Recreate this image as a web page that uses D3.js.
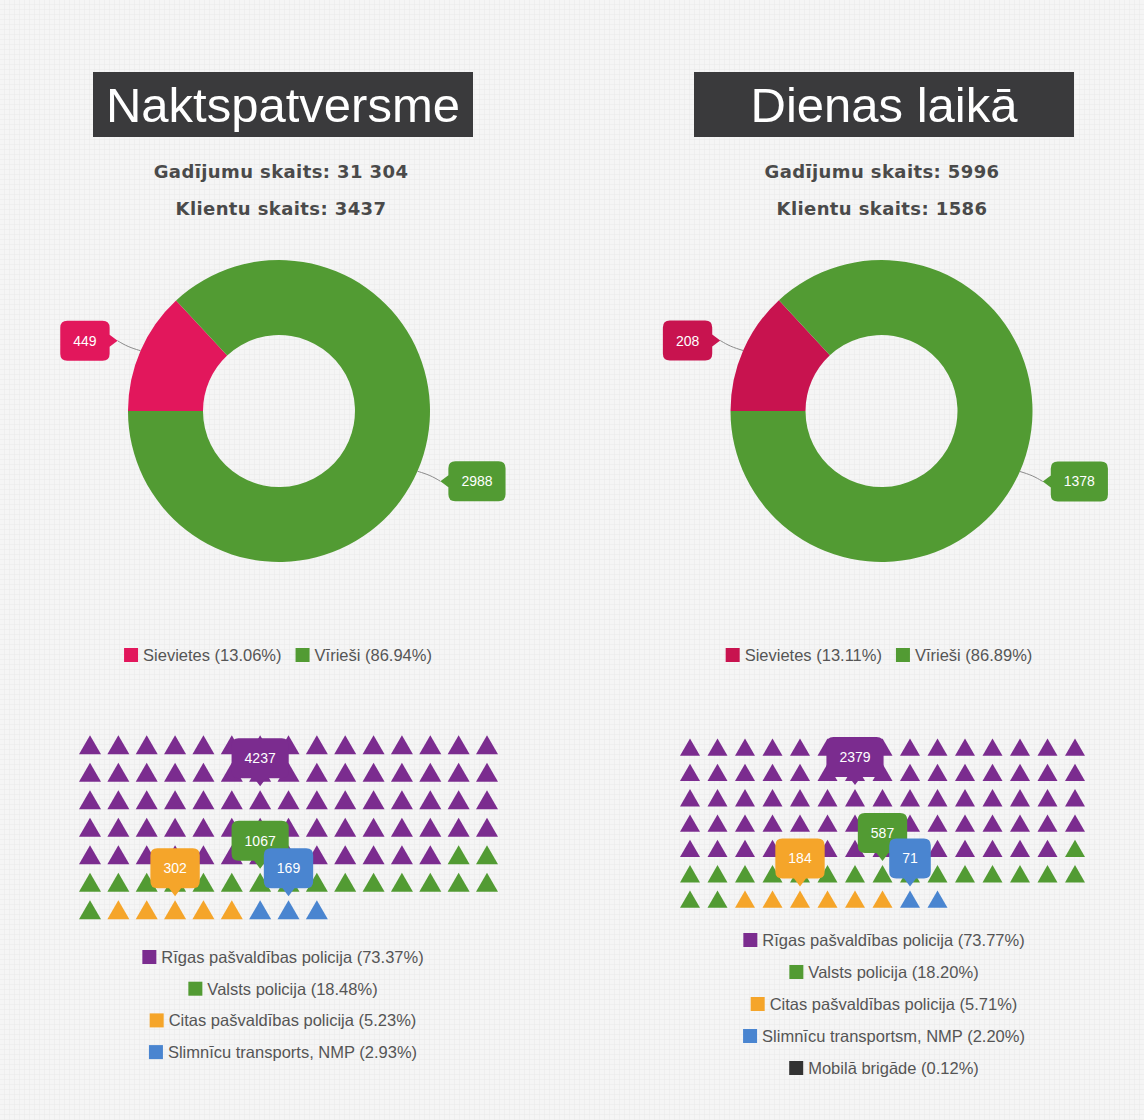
<!DOCTYPE html>
<html>
<head>
<meta charset="utf-8">
<script src="https://cdn.jsdelivr.net/npm/d3@7"></script>
<style>
body { margin: 0; background: #f4f4f4; }
svg { display: block; }
</style>
</head>
<body>
<div id="chart"></div>
<script>
const titles = ["Naktspatversme", "Dienas laikā"];
const caseCounts = ["31 304", "5996"];
const clientCounts = ["3437", "1586"];

const genderNames = ["Sievietes", "Vīrieši"];
const genderNight = [449, 2988];
const genderDay = [208, 1378];

const policeNamesNight = ["Rīgas pašvaldības policija", "Valsts policija", "Citas pašvaldības policija", "Slimnīcu transports, NMP"];
const policeNamesDay = ["Rīgas pašvaldības policija", "Valsts policija", "Citas pašvaldības policija", "Slimnīcu transportsm, NMP", "Mobilā brigāde"];
const policeNight = [4237, 1067, 302, 169];
const policeDay = [2379, 587, 184, 71, 4];

const genderColorsNight = ["#e2175c", "#529b33"];
const genderColorsDay = ["#c8134f", "#529b33"];
const policeColors = ["#7b2c8f", "#529b33", "#f5a52a", "#4a85d0", "#333333"];

const W = 1144, H = 1120;
const COLS = 15;
const fmtPct = d3.format(".2f");

const svg = d3.select("#chart").append("svg")
    .attr("width", W).attr("height", H);

// light graph paper background
const defs = svg.append("defs");
const pat = defs.append("pattern").attr("id", "paper")
    .attr("width", 5).attr("height", 5).attr("patternUnits", "userSpaceOnUse");
pat.append("rect").attr("width", 5).attr("height", 5).attr("fill", "#f5f5f5");
pat.append("path").attr("d", "M5 0V5H0").attr("fill", "none").attr("stroke", "#eaeaea").attr("stroke-width", 1);
svg.append("rect").attr("width", W).attr("height", H).attr("fill", "url(#paper)");

function calloutPath(x, y, w, h, side, tx, ty) {
    const r = 7, p = 6;
    const cy = y + h / 2;
    let s = `M${x + r},${y}H${x + w - r}Q${x + w},${y} ${x + w},${y + r}`;
    if (side === "right") s += `V${cy - p}L${tx},${ty}L${x + w},${cy + p}`;
    s += `V${y + h - r}Q${x + w},${y + h} ${x + w - r},${y + h}`;
    if (side === "bottom") s += `H${tx + p}L${tx},${ty}L${tx - p},${y + h}`;
    s += `H${x + r}Q${x},${y + h} ${x},${y + h - r}`;
    if (side === "left") s += `V${cy + p}L${tx},${ty}L${x},${cy - p}`;
    s += `V${y + r}Q${x},${y} ${x + r},${y}Z`;
    return s;
}

// draws a label bubble; side = where the pointer sits
function addCallout(parent, text, color, side, tx, ty) {
    const g = parent.append("g");
    const t = g.append("text")
        .attr("fill", "#fff")
        .attr("font-family", "'Liberation Sans', Arial, sans-serif")
        .attr("font-size", 14)
        .attr("text-anchor", "middle")
        .text(text);
    const w = t.node().getComputedTextLength() + 26;
    const h = 40, gap = 8;
    let x, y;
    if (side === "bottom") { x = tx - w / 2; y = ty - gap - h; }
    else if (side === "right") { x = tx - gap - w; y = ty - h / 2; }
    else { x = tx + gap; y = ty - h / 2; }
    g.insert("path", "text")
        .attr("d", calloutPath(x, y, w, h, side, tx, ty))
        .attr("fill", color);
    t.attr("x", x + w / 2).attr("y", y + h / 2 + 5);
}

function centeredLegendRow(parent, items, cx, cy, font) {
    const g = parent.append("g");
    let x = 0;
    items.forEach((it, i) => {
        g.append("rect").attr("x", x).attr("y", cy - 7).attr("width", 14).attr("height", 14)
            .attr("fill", it.color);
        const t = g.append("text")
            .attr("x", x + 19).attr("y", cy + 6)
            .attr("font-family", "'Liberation Sans', Arial, sans-serif")
            .attr("font-size", font).attr("fill", "#555")
            .text(it.label);
        x += 19 + t.node().getComputedTextLength() + 14;
    });
    const total = x - 14;
    g.attr("transform", `translate(${cx - total / 2},0)`);
}

const panels = [
    {
        title: titles[0], cases: caseCounts[0], clients: clientCounts[0],
        gender: genderNight, gColors: genderColorsNight,
        police: policeNight, pNames: policeNamesNight,
        cx: 281, donutCx: 279, gridX: [90, 487], gridY: [748, 913], tri: 22,
        legendY: 957, legendStep: 31.7
    },
    {
        title: titles[1], cases: caseCounts[1], clients: clientCounts[1],
        gender: genderDay, gColors: genderColorsDay,
        police: policeDay, pNames: policeNamesDay,
        cx: 882, donutCx: 881.5, gridX: [690, 1075], gridY: [750, 902], tri: 20,
        legendY: 940, legendStep: 32
    }
];

panels.forEach(p => {
    const g = svg.append("g");

    // title block
    g.append("rect")
        .attr("x", p.cx + 2 - 190).attr("y", 72)
        .attr("width", 380).attr("height", 65)
        .attr("fill", "#3a3a3c");
    g.append("text")
        .attr("x", p.cx + 2).attr("y", 122)
        .attr("text-anchor", "middle")
        .attr("font-family", "'Liberation Sans', Arial, sans-serif")
        .attr("font-size", 49).attr("fill", "#fff")
        .text(p.title);

    g.append("text")
        .attr("x", p.cx).attr("y", 178)
        .attr("text-anchor", "middle")
        .attr("font-family", "'DejaVu Sans', Verdana, sans-serif")
        .attr("font-weight", "bold").attr("font-size", 18)
        .attr("letter-spacing", 0.4)
        .attr("fill", "#4a4a4a")
        .text("Gadījumu skaits: " + p.cases);
    g.append("text")
        .attr("x", p.cx).attr("y", 215)
        .attr("text-anchor", "middle")
        .attr("font-family", "'DejaVu Sans', Verdana, sans-serif")
        .attr("font-weight", "bold").attr("font-size", 18)
        .attr("letter-spacing", 0.4)
        .attr("fill", "#4a4a4a")
        .text("Klientu skaits: " + p.clients);

    // donut
    const cy = 411, R = 151, r0 = 76;
    const pie = d3.pie().sort(null).startAngle(-Math.PI / 2).endAngle(1.5 * Math.PI);
    const arcs = pie(p.gender);
    const arc = d3.arc().innerRadius(r0).outerRadius(R);
    const dg = g.append("g").attr("transform", `translate(${p.donutCx},${cy})`);
    dg.selectAll("path.slice")
        .data(arcs)
        .enter().append("path")
        .attr("class", "slice")
        .attr("d", arc)
        .attr("fill", (d, i) => p.gColors[i]);

    arcs.forEach((a, i) => {
        const mid = (a.startAngle + a.endAngle) / 2;
        const dx = Math.sin(mid), dy = -Math.cos(mid);
        const ox = dx * R, oy = dy * R;
        const tx = dx * (R + 25), ty = dy * (R + 25);
        dg.append("path")
            .attr("d", d3.line().curve(d3.curveBasis)([[ox, oy], [ox + dx * 14, oy + dy * 10], [tx, ty]]))
            .attr("fill", "none").attr("stroke", "#8a8a8a").attr("stroke-width", 1);
        addCallout(dg, String(p.gender[i]), p.gColors[i], dx < 0 ? "right" : "left", tx, ty);
    });

    const gTotal = d3.sum(p.gender);
    centeredLegendRow(g, genderNames.map((n, i) => ({
        label: `${n} (${fmtPct(p.gender[i] / gTotal * 100)}%)`,
        color: p.gColors[i]
    })), p.cx - 3, 655, 16.5);

    // triangle grid, one icon per percent
    const pTotal = d3.sum(p.police);
    const counts = p.police.map(v => Math.round(v / pTotal * 100));
    const icons = [];
    counts.forEach((c, k) => { for (let j = 0; j < c; j++) icons.push(k); });
    const rows = Math.ceil(icons.length / COLS);
    const x = d3.scaleLinear().domain([0, COLS - 1]).range(p.gridX);
    const y = d3.scaleLinear().domain([0, 6]).range(p.gridY);
    const area = Math.sqrt(3) / 4 * p.tri * p.tri;
    const sym = d3.symbol(d3.symbolTriangle, area);

    g.append("g").selectAll("path.icon")
        .data(icons)
        .enter().append("path")
        .attr("class", "icon")
        .attr("d", sym)
        .attr("transform", (d, i) => `translate(${x(i % COLS)},${y(Math.floor(i / COLS))})`)
        .attr("fill", d => policeColors[d]);

    // bubbles over the middle icon of each category
    const triH = Math.sqrt(3) / 2 * p.tri;
    let start = 0;
    counts.forEach((c, k) => {
        if (c > 0) {
            const idx = start + Math.floor((c - 1) / 2);
            const ix = x(idx % COLS), iy = y(Math.floor(idx / COLS));
            addCallout(g, String(p.police[k]), policeColors[k], "bottom", ix, iy - triH * 2 / 3 - 4);
        }
        start += c;
    });

    p.pNames.forEach((n, k) => {
        centeredLegendRow(g, [{
            label: `${n} (${fmtPct(p.police[k] / pTotal * 100)}%)`,
            color: policeColors[k]
        }], p.cx + 2, p.legendY + k * p.legendStep, 16.5);
    });
});
</script>
</body>
</html>
